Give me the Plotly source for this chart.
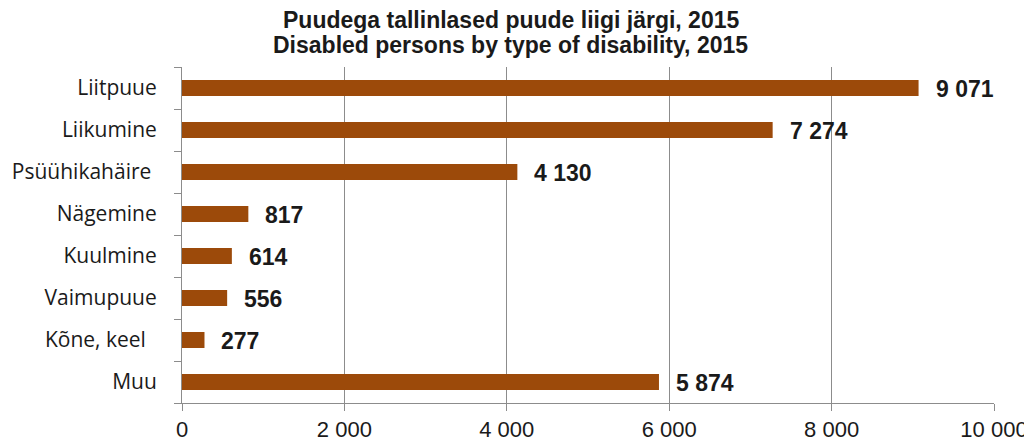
import plotly.graph_objects as go

categories = ["Liitpuue", "Liikumine", "Psüühikahäire", "Nägemine", "Kuulmine", "Vaimupuue", "Kõne, keel", "Muu"]
values = [9071, 7274, 4130, 817, 614, 556, 277, 5874]
x_ticks = [0, 2000, 4000, 6000, 8000, 10000]
x_tick_labels = ["0", "2 000", "4 000", "6 000", "8 000", "10 000"]
# trailing non-breaking spaces reproduce the slightly ragged label alignment
category_padding = [0, 0, 1, 0, 0, 0, 2, 0]

labels = [f"{v:,}".replace(",", " ") for v in values]
cat_text = [c + "\u00a0" * p for c, p in zip(categories, category_padding)]
color = "#9C4A0A"
text_color = "#1a1a1a"
axis_grey = "#8c8c8c"

fig = go.Figure()
fig.add_trace(go.Bar(
    x=values, y=categories, orientation="h",
    marker=dict(color=color, line=dict(width=0)),
    hoverinfo="x+y",
))

for v, c, t in zip(values, categories, labels):
    fig.add_annotation(x=v, y=c, text=f"<b>{t}</b>", showarrow=False,
                       xanchor="left", xshift=15, yshift=-1,
                       font=dict(family="Liberation Sans, Arial", size=23, color=text_color))

title_lines = ["Puudega tallinlased puude liigi järgi, 2015",
               "Disabled persons by type of disability, 2015"]
title_shifts = [47, 22]
for line, shift in zip(title_lines, title_shifts):
    fig.add_annotation(xref="paper", yref="paper", x=0.405, y=1, yanchor="middle",
                       xanchor="center", yshift=shift, showarrow=False,
                       text=f"<b>{line}</b>",
                       font=dict(family="Liberation Sans, Arial", size=23, color=text_color))

fig.update_layout(
    width=1032, height=441,
    margin=dict(l=174, r=46, t=59, b=46, autoexpand=False),
    paper_bgcolor="white", plot_bgcolor="white",
    bargap=0.62,
    showlegend=False,
    xaxis=dict(
        range=[0, 10000], tickvals=x_ticks, ticktext=x_tick_labels,
        showgrid=True, gridcolor=axis_grey, gridwidth=1,
        showline=True, linecolor=axis_grey, linewidth=1,
        ticks="outside", ticklen=7, tickcolor=axis_grey,
        tickfont=dict(family="Liberation Sans, Arial", size=22, color=text_color),
        zeroline=False, fixedrange=True, automargin=False,
    ),
    yaxis=dict(
        categoryorder="array", categoryarray=categories, autorange="reversed",
        tickvals=categories, ticktext=cat_text,
        showline=True, linecolor=axis_grey, linewidth=1,
        ticks="outside", tickson="boundaries", ticklen=7, tickcolor=axis_grey,
        tickfont=dict(family="Open Sans, Noto Sans", size=21, color=text_color),
        ticklabelstandoff=20,
        showgrid=False, zeroline=False, fixedrange=True, automargin=False,
    ),
)

fig.write_html("out.html")
